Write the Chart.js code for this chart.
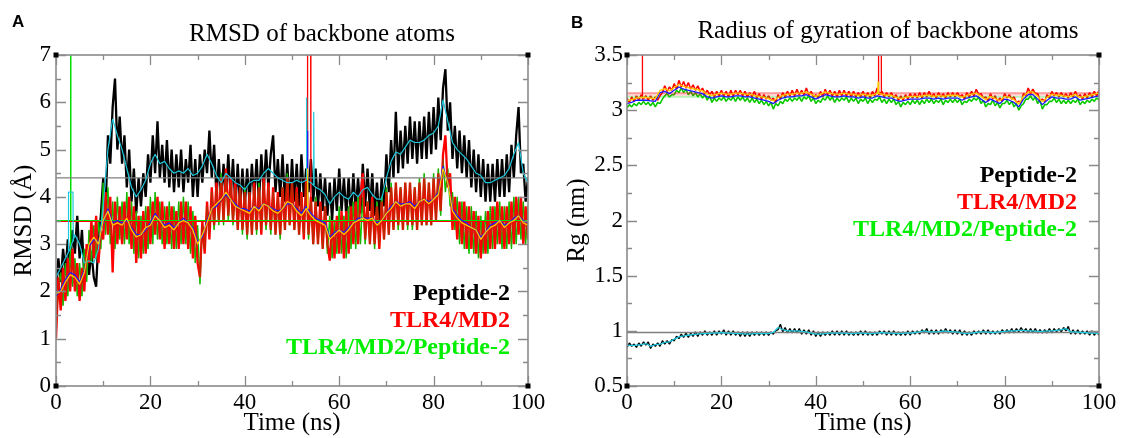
<!DOCTYPE html>
<html><head><meta charset="utf-8">
<script src="https://cdn.jsdelivr.net/npm/chart.js@4.4.1/dist/chart.umd.min.js"></script>
<style>
html,body{margin:0;padding:0;background:#fff;width:1122px;height:438px;overflow:hidden}
#ca{position:absolute;left:0;top:0}
#cb{position:absolute;left:560px;top:0}
</style></head><body>
<canvas id="ca" width="561" height="438"></canvas>
<canvas id="cb" width="562" height="438"></canvas>
<script>
// ---------- time axes (ns) ----------
const timeRaw = Array.from({length:201},(_,i)=>i/2);
const timeAvg = Array.from({length:101},(_,i)=>i);
const xTickLabels = [0,20,40,60,80,100];

// ---------- Panel A : RMSD (Å) ----------
const rmsdPeptideRaw = [
2.0,2.7,2.2,2.9,2.4,3.1,2.5,3.3,2.8,3.6,
2.7,3.3,2.3,2.9,2.35,2.85,2.3,2.1,3.1,3.6,
4.4,3.7,5.3,4.7,5.9,6.5,5.0,5.7,4.7,5.3,
4.2,5.0,3.9,4.6,3.65,4.4,3.8,4.5,4.0,4.9,
4.3,5.3,4.5,5.6,4.4,5.1,4.3,5.2,4.2,5.0,
4.1,4.9,4.2,5.0,4.1,4.8,4.3,5.1,4.0,4.8,
4.0,4.9,4.3,5.0,4.5,5.4,4.4,5.1,4.0,4.8,
3.9,4.7,4.0,4.9,4.0,4.8,3.8,4.7,3.8,4.6,
3.8,4.6,3.9,4.7,4.0,4.8,3.9,4.9,4.1,5.0,
4.2,4.9,5.3,4.1,4.8,4.0,4.9,3.9,4.7,3.8,
4.8,3.9,4.7,3.8,4.9,4.0,4.6,4.1,4.8,3.9,
4.6,3.8,4.5,3.7,4.4,3.6,4.3,3.5,4.4,3.7,
4.6,3.7,4.4,3.6,4.4,3.6,4.5,3.7,4.4,3.65,
4.7,3.8,4.6,3.7,4.5,3.6,4.3,3.5,4.4,3.8,
4.9,4.1,5.2,4.4,5.8,4.5,5.4,4.6,5.5,4.7,
5.7,4.8,5.6,4.7,5.6,4.8,5.7,4.8,5.8,4.9,
5.9,5.0,6.1,5.2,6.3,6.7,5.4,6.0,4.8,5.5,
4.6,5.4,4.5,5.3,4.4,5.2,4.2,5.0,4.1,4.9,
4.0,4.8,3.9,4.7,3.9,4.7,3.9,4.8,4.0,4.8,
4.0,4.9,4.1,5.1,4.4,5.3,5.9,4.5,4.7,3.9,4.4];
const rmsdTlrRaw = [
1.0,2.3,1.6,2.5,1.8,2.7,2.0,2.9,2.0,2.6,
1.8,2.5,2.0,3.0,2.6,3.5,2.7,3.6,2.6,3.3,
3.1,4.1,3.2,4.0,2.4,3.9,3.0,3.8,3.0,3.9,
3.1,4.0,2.9,3.8,2.6,3.6,2.7,3.7,2.8,3.8,
3.0,3.9,3.2,4.0,3.1,3.9,2.9,3.8,3.0,3.8,
2.9,3.7,2.9,3.9,3.0,3.9,2.9,3.8,2.7,3.6,
2.6,2.3,3.5,2.8,3.9,3.1,4.2,3.4,4.3,3.5,
4.4,3.5,4.6,3.6,4.4,3.5,4.3,3.3,4.2,3.3,
4.1,3.2,4.1,3.2,4.3,3.3,4.2,3.2,4.4,3.4,
4.3,3.3,4.2,3.2,4.1,3.2,4.2,3.3,4.4,3.4,
4.3,3.3,4.2,3.2,4.1,3.1,4.4,3.2,4.0,3.0,
3.9,3.0,3.9,2.9,3.8,3.0,2.65,3.5,2.7,3.6,
2.8,3.7,2.7,3.7,2.8,3.8,3.0,3.9,3.0,4.0,
4.5,3.1,3.9,3.0,4.0,3.0,3.8,2.9,3.9,3.1,
4.1,3.2,4.2,3.3,4.3,3.4,4.2,3.3,4.3,3.4,
4.3,3.4,4.2,3.3,4.3,3.4,4.4,3.4,4.3,3.4,
4.4,3.5,4.5,3.7,4.9,5.3,4.2,4.5,3.3,4.0,
3.1,3.9,3.0,3.9,2.9,3.8,2.9,3.7,2.8,3.6,
2.7,3.5,2.8,3.7,2.9,3.8,2.9,3.9,3.0,3.8,
2.9,3.8,3.0,3.9,3.0,4.0,3.2,4.0,3.0,3.8,3.1];
const rmsdComplexRaw = [
1.2,2.1,2.4,1.7,2.6,1.9,2.8,2.1,2.7,1.9,
2.6,1.9,2.9,2.2,3.3,2.6,3.4,2.7,3.5,2.9,
4.3,3.2,4.2,3.0,3.9,2.9,4.0,3.1,3.9,3.0,
4.1,3.0,3.9,2.8,3.7,2.7,3.6,2.8,3.8,2.9,
4.0,3.0,4.1,3.1,3.9,3.0,3.8,3.0,3.9,2.9,
3.8,2.9,3.9,3.0,4.0,3.0,3.9,2.8,3.7,2.6,
3.4,2.15,3.4,2.9,3.8,3.2,4.1,3.3,4.2,3.4,
4.5,3.4,4.5,3.5,4.3,3.4,4.2,3.3,4.2,3.2,
4.2,3.1,4.1,3.2,4.2,3.2,4.3,3.3,4.3,3.3,
4.2,3.2,4.1,3.2,4.0,3.1,4.2,3.3,4.5,3.4,
4.3,3.3,4.1,3.2,4.0,3.2,4.3,3.1,3.9,3.0,
4.0,3.0,3.8,2.9,3.8,2.8,3.6,2.7,3.5,2.8,
3.8,2.8,3.6,2.7,3.8,2.9,3.9,2.9,4.0,3.0,
4.0,3.0,3.9,3.0,3.9,2.9,3.9,3.0,4.0,3.1,
4.2,3.2,4.3,3.3,4.3,3.3,4.2,3.3,4.3,3.3,
4.3,3.3,4.2,3.3,4.4,3.4,4.5,3.4,4.3,3.4,
4.5,3.5,4.6,3.6,4.8,4.1,4.6,3.8,4.1,3.3,
4.0,3.0,3.9,2.9,3.8,2.8,3.8,2.8,3.7,2.7,
3.6,2.8,3.7,2.8,3.8,2.9,3.8,3.0,3.9,2.9,
3.8,2.9,3.9,2.9,4.0,3.0,4.0,3.1,3.9,3.0,3.8];
const rmsdPeptideAvg = [
2.3,2.5,2.7,2.9,3.2,3.0,2.6,2.65,2.6,2.9,
3.8,5.0,5.65,5.3,5.0,4.6,4.2,4.0,4.15,4.35,
4.7,4.9,4.7,4.75,4.6,4.5,4.55,4.5,4.6,4.45,
4.5,4.65,4.9,4.7,4.45,4.3,4.5,4.4,4.3,4.25,
4.15,4.3,4.35,4.35,4.5,4.6,4.5,4.4,4.35,4.3,
4.3,4.35,4.3,4.35,4.3,4.2,4.15,4.05,3.85,4.0,
4.1,4.0,3.95,4.1,4.0,4.15,4.2,4.05,3.95,3.95,
4.4,4.75,4.95,4.9,5.05,5.2,5.15,5.15,5.2,5.3,
5.35,5.5,6.05,5.6,5.15,5.0,4.9,4.8,4.65,4.5,
4.45,4.3,4.3,4.35,4.4,4.45,4.6,4.9,5.15,4.5,4.3];
const rmsdTlrAvg = [
1.95,2.0,2.2,2.35,2.3,2.15,2.4,3.0,3.15,3.0,
3.5,3.7,3.4,3.45,3.4,3.55,3.3,3.15,3.2,3.35,
3.4,3.6,3.5,3.35,3.4,3.3,3.45,3.5,3.45,3.3,
3.0,3.2,3.45,3.75,3.85,3.95,4.1,3.95,3.8,3.75,
3.7,3.65,3.8,3.7,3.85,3.8,3.7,3.65,3.75,3.9,
3.85,3.7,3.6,3.75,3.6,3.5,3.45,3.4,3.1,3.2,
3.3,3.2,3.3,3.45,3.5,3.55,3.5,3.55,3.4,3.5,
3.65,3.75,3.9,3.8,3.85,3.85,3.75,3.9,3.95,3.85,
3.95,4.05,4.6,4.3,3.7,3.55,3.45,3.4,3.35,3.3,
3.1,3.25,3.35,3.4,3.5,3.35,3.45,3.5,3.6,3.45,3.4];
const rmsdComplexAvg = [
1.9,2.05,2.25,2.4,2.35,2.2,2.45,2.95,3.1,3.05,
3.45,3.75,3.45,3.5,3.45,3.5,3.35,3.2,3.2,3.3,
3.45,3.65,3.5,3.4,3.45,3.35,3.45,3.55,3.45,3.35,
3.05,3.15,3.5,3.75,3.8,3.95,4.05,3.95,3.85,3.75,
3.75,3.7,3.8,3.75,3.85,3.8,3.75,3.7,3.75,3.85,
3.85,3.75,3.65,3.8,3.65,3.55,3.5,3.45,3.15,3.25,
3.3,3.25,3.35,3.45,3.55,3.55,3.55,3.55,3.45,3.5,
3.65,3.8,3.9,3.85,3.85,3.9,3.8,3.9,3.95,3.9,
3.95,4.1,4.65,4.3,3.75,3.6,3.5,3.45,3.35,3.3,
3.15,3.25,3.4,3.45,3.5,3.4,3.45,3.55,3.6,3.5,3.45];
// glitches (single frames) in panel A
const rmsdComplexSpikeT = [3.05,3.1,3.15];
const rmsdComplexSpikeV = [2.6,12,2.6];
const rmsdTlrSpikeT = [53.2,53.3,53.9,54.0];
const rmsdTlrSpikeV = [3.9,12,12,3.9];
const rmsdPeptideAvgSpikeT = [2.6,2.65,3.6,3.65,4.0,53.0,53.1,53.2,54.0,54.5,54.6,54.7];
const rmsdPeptideAvgSpikeV = [2.85,4.1,4.1,3.05,null,4.35,6.1,4.35,null,4.25,5.8,4.25];
const rmsdTlrAvgSpikeT = [53.2,53.3,53.4];
const rmsdTlrAvgSpikeV = [3.75,4.6,3.75];
const rmsdComplexAvgSpikeT = [53.25,53.3,53.35];
const rmsdComplexAvgSpikeV = [3.8,5.4,3.8];
const rmsdMeanPeptide = 4.4, rmsdMeanTlr = 3.48, rmsdMeanComplex = 3.5;

// ---------- Panel B : Rg (nm) ----------
const rgPeptideRaw = [
0.85,0.89,0.86,0.88,0.85,0.89,0.86,0.90,0.87,0.90,
0.84,0.88,0.86,0.89,0.86,0.91,0.88,0.91,0.88,0.92,
0.91,0.95,0.93,0.97,0.94,0.98,0.94,0.98,0.95,0.99,
0.95,0.99,0.96,1.0,0.96,0.99,0.96,1.0,0.96,1.0,
0.97,1.01,0.96,1.0,0.96,1.0,0.96,0.99,0.95,0.99,
0.95,0.99,0.95,0.99,0.96,0.99,0.96,0.99,0.96,0.99,
0.96,0.99,0.97,1.0,1.01,1.06,0.99,1.03,0.98,1.02,
0.98,1.02,0.98,1.02,0.97,1.01,0.97,1.01,0.96,1.0,
0.95,0.99,0.95,0.99,0.96,0.99,0.96,1.0,0.96,1.0,
0.96,1.0,0.96,1.0,0.96,0.99,0.96,0.99,0.96,1.0,
0.96,1.0,0.96,0.99,0.96,0.99,0.96,1.0,0.97,1.0,
0.96,1.0,0.96,1.0,0.96,0.99,0.96,0.99,0.96,1.0,
0.96,1.0,0.97,1.0,0.97,1.01,0.98,1.02,0.97,1.01,
0.97,1.01,0.97,1.01,0.98,1.02,0.98,1.01,0.97,1.01,
0.97,1.01,0.96,1.0,0.96,0.99,0.96,1.0,0.97,1.0,
0.97,1.01,0.97,1.01,0.97,1.0,0.97,1.0,0.97,1.01,
0.98,1.01,0.98,1.02,0.98,1.02,0.99,1.03,0.99,1.02,
0.98,1.02,0.98,1.02,0.98,1.01,0.98,1.01,0.98,1.02,
0.98,1.02,0.99,1.02,0.99,1.03,1.0,1.04,0.97,1.01,
0.97,1.01,0.97,1.0,0.97,1.0,0.96,1.0,0.96,0.99,0.96];
const rgTlrRaw = [
3.11,3.07,3.12,3.08,3.13,3.09,3.14,3.10,3.13,3.09,
3.13,3.09,3.12,3.09,3.13,3.16,3.22,3.17,3.21,3.18,
3.24,3.19,3.27,3.21,3.26,3.20,3.25,3.19,3.23,3.18,
3.22,3.17,3.20,3.15,3.18,3.14,3.17,3.12,3.17,3.13,
3.18,3.13,3.17,3.12,3.18,3.13,3.18,3.14,3.18,3.13,
3.17,3.12,3.16,3.12,3.17,3.11,3.15,3.10,3.14,3.10,
3.13,3.09,3.11,3.07,3.14,3.10,3.16,3.12,3.17,3.13,
3.18,3.13,3.19,3.14,3.18,3.14,3.20,3.14,3.17,3.12,
3.14,3.11,3.17,3.12,3.19,3.14,3.18,3.13,3.17,3.12,
3.18,3.13,3.18,3.13,3.17,3.12,3.17,3.12,3.16,3.12,
3.17,3.12,3.16,3.11,3.17,3.13,3.20,3.14,3.17,3.12,
3.16,3.12,3.16,3.11,3.14,3.09,3.13,3.09,3.14,3.10,
3.15,3.11,3.15,3.11,3.16,3.11,3.16,3.12,3.17,3.12,
3.15,3.11,3.16,3.12,3.15,3.11,3.16,3.12,3.16,3.12,
3.16,3.12,3.14,3.10,3.16,3.12,3.17,3.13,3.19,3.14,
3.15,3.11,3.12,3.08,3.15,3.10,3.13,3.08,3.11,3.08,
3.15,3.11,3.14,3.10,3.12,3.07,3.08,3.07,3.15,3.13,
3.20,3.15,3.19,3.15,3.15,3.09,3.10,3.08,3.14,3.11,
3.17,3.13,3.16,3.12,3.16,3.12,3.15,3.11,3.16,3.12,
3.17,3.12,3.14,3.10,3.15,3.11,3.16,3.12,3.17,3.13,3.18];
const rgComplexRaw = [
3.02,3.05,3.03,3.06,3.04,3.07,3.05,3.08,3.05,3.07,
3.04,3.07,3.03,3.07,3.06,3.10,3.13,3.15,3.12,3.14,
3.14,3.18,3.16,3.20,3.16,3.19,3.14,3.17,3.13,3.16,
3.12,3.15,3.11,3.14,3.09,3.13,3.07,3.11,3.08,3.11,
3.09,3.12,3.08,3.11,3.09,3.12,3.08,3.12,3.09,3.12,
3.08,3.11,3.07,3.11,3.07,3.10,3.06,3.09,3.05,3.08,
3.04,3.07,3.01,3.06,3.04,3.08,3.06,3.10,3.08,3.11,
3.08,3.11,3.09,3.12,3.08,3.12,3.10,3.13,3.08,3.11,
3.06,3.09,3.07,3.11,3.09,3.13,3.09,3.12,3.07,3.11,
3.08,3.11,3.09,3.12,3.07,3.11,3.08,3.11,3.06,3.10,
3.08,3.11,3.06,3.10,3.07,3.10,3.09,3.12,3.07,3.10,
3.06,3.10,3.07,3.10,3.05,3.08,3.03,3.07,3.05,3.08,
3.05,3.09,3.06,3.09,3.05,3.09,3.06,3.10,3.07,3.10,
3.06,3.09,3.07,3.10,3.05,3.09,3.07,3.10,3.07,3.10,
3.07,3.10,3.05,3.08,3.07,3.10,3.08,3.11,3.09,3.12,
3.06,3.09,3.03,3.06,3.05,3.09,3.04,3.07,3.02,3.06,
3.06,3.09,3.05,3.08,3.03,3.06,3.00,3.04,3.06,3.10,
3.10,3.13,3.09,3.12,3.06,3.09,3.01,3.05,3.05,3.08,
3.08,3.11,3.07,3.10,3.06,3.09,3.06,3.09,3.06,3.09,
3.07,3.10,3.05,3.08,3.06,3.09,3.07,3.10,3.08,3.11,3.09];
const rgPeptideAvg = [
0.87,0.865,0.87,0.875,0.885,0.86,0.875,0.88,0.895,0.9,
0.925,0.945,0.955,0.96,0.965,0.97,0.975,0.975,0.98,0.98,
0.985,0.98,0.98,0.975,0.975,0.97,0.97,0.975,0.975,0.975,
0.975,0.985,1.03,1.01,1.0,1.0,1.0,0.995,0.99,0.98,
0.97,0.97,0.975,0.98,0.98,0.98,0.98,0.975,0.975,0.98,
0.98,0.975,0.975,0.98,0.985,0.98,0.98,0.975,0.975,0.98,
0.98,0.985,0.99,1.0,0.99,0.99,0.99,1.0,0.995,0.99,
0.99,0.98,0.975,0.98,0.985,0.99,0.99,0.985,0.985,0.99,
0.995,1.0,1.0,1.005,1.005,1.0,1.0,0.995,0.995,1.0,
1.0,1.005,1.01,1.02,0.99,0.99,0.985,0.985,0.98,0.98,0.975];
const rgTlrAvg = [
3.085,3.095,3.11,3.115,3.115,3.11,3.105,3.18,3.195,3.175,
3.205,3.235,3.215,3.205,3.195,3.185,3.175,3.145,3.135,3.145,
3.155,3.145,3.145,3.155,3.155,3.145,3.145,3.135,3.125,3.115,
3.105,3.085,3.115,3.135,3.145,3.145,3.155,3.155,3.165,3.145,
3.125,3.145,3.165,3.155,3.145,3.145,3.155,3.145,3.145,3.135,
3.145,3.135,3.135,3.155,3.145,3.135,3.135,3.115,3.105,3.115,
3.125,3.125,3.125,3.135,3.135,3.125,3.135,3.125,3.135,3.135,
3.135,3.115,3.135,3.145,3.155,3.125,3.095,3.125,3.105,3.085,
3.125,3.115,3.095,3.055,3.125,3.165,3.165,3.125,3.075,3.115,
3.145,3.135,3.135,3.125,3.125,3.145,3.115,3.125,3.135,3.145,3.155];
const rgComplexAvg = [
3.06,3.07,3.09,3.09,3.09,3.085,3.08,3.16,3.17,3.15,
3.18,3.21,3.19,3.18,3.17,3.16,3.15,3.12,3.11,3.12,
3.13,3.12,3.12,3.13,3.13,3.12,3.12,3.11,3.10,3.09,
3.08,3.06,3.09,3.11,3.12,3.12,3.13,3.13,3.14,3.12,
3.10,3.12,3.14,3.13,3.12,3.12,3.13,3.12,3.12,3.11,
3.12,3.11,3.11,3.13,3.12,3.11,3.11,3.09,3.08,3.09,
3.10,3.10,3.10,3.11,3.11,3.10,3.11,3.10,3.11,3.11,
3.11,3.09,3.11,3.12,3.13,3.10,3.07,3.10,3.08,3.06,
3.10,3.09,3.07,3.03,3.10,3.14,3.14,3.10,3.05,3.09,
3.12,3.11,3.11,3.10,3.10,3.12,3.09,3.10,3.11,3.12,3.13];
const rgTlrSpikeT = [3.2,3.25,3.3,3.4,53.2,53.3,53.8,53.9];
const rgTlrSpikeV = [3.1,5,3.1,null,3.14,5,5,3.14];
const rgTlrAvgSpikeT = [53.1,53.2,53.3];
const rgTlrAvgSpikeV = [3.15,3.26,3.15];
const rgMeanPeptide = 0.985, rgMeanTlr = 3.155, rgMeanTlr2 = 3.138, rgMeanComplex = 3.12;

// ---------- colours ----------
const C = {black:'#000000', red:'#ff0000', green:'#00e000', greenT:'rgba(60,120,0,0.35)',
  cyan:'#1ec8dc', yellow:'#ffcc00', blue:'#1a1aff', gray:'#7f7f7f', frame:'#8a8a8a'};
const SERIF = "'Liberation Serif'";
Chart.defaults.font.family = SERIF;

function pts(ts, vs){ return ts.map((t,i)=>({x:t, y:vs[i]})); }
function hline(v){ return [{x:0,y:v},{x:100,y:v}]; }
function ds(data, color, width, order){
  return {data, borderColor:color, borderWidth:width, order, pointRadius:0, tension:0, fill:false,
    spanGaps:false, borderJoinStyle:'bevel'};
}

const framePlugin = {
  id:'frame',
  afterDatasetsDraw(chart, args, o){
    const {ctx, chartArea:a, scales:{x, y}} = chart;
    ctx.save();
    ctx.strokeStyle = C.frame; ctx.lineWidth = 1.3;
    const isMaj = (v, m)=>Math.abs(v/m - Math.round(v/m)) < 1e-6;
    for (let v = x.min; v <= x.max + 1e-9; v += o.xMinor){
      const p = Math.round(x.getPixelForValue(v)) + 0.5, L = isMaj(v, o.xMajor) ? 10 : 5;
      ctx.beginPath(); ctx.moveTo(p, a.bottom); ctx.lineTo(p, a.bottom - L);
      ctx.moveTo(p, a.top); ctx.lineTo(p, a.top + L); ctx.stroke();
    }
    for (let v = y.min; v <= y.max + 1e-9; v += o.yMinor){
      const p = Math.round(y.getPixelForValue(v)) + 0.5, L = isMaj(v - y.min, o.yMajor) ? 10 : 5;
      ctx.beginPath(); ctx.moveTo(a.left, p); ctx.lineTo(a.left + L, p);
      ctx.moveTo(a.right, p); ctx.lineTo(a.right - L, p); ctx.stroke();
    }
    ctx.lineWidth = 1.6;
    ctx.strokeRect(a.left, a.top, a.right - a.left, a.bottom - a.top);
    ctx.fillStyle = '#000';
    for (const [cx, cy] of [[a.left,a.top],[a.right,a.top],[a.left,a.bottom],[a.right,a.bottom]])
      ctx.fillRect(cx - 2.5, cy - 2.5, 5, 5);
    ctx.restore();
  }
};
const textPlugin = {
  id:'texts',
  afterDraw(chart, args, o){
    const ctx = chart.ctx; ctx.save();
    for (const t of o.items){
      ctx.font = t.font; ctx.fillStyle = t.color; ctx.textAlign = t.align; ctx.textBaseline = 'alphabetic';
      ctx.fillText(t.text, t.x, t.y);
    }
    ctx.restore();
  }
};

function axisFont(size){ return {family:SERIF, size, weight:'normal'}; }
function makeOptions(cfg){
  return {
    responsive:false, animation:false, events:[],
    layout:{padding:{left:0, right:cfg.padRight, top:55, bottom:0}},
    scales:{
      x:{type:'linear', min:0, max:100,
        afterFit(s){ s.height = 52; },
        afterBuildTicks(s){ s.ticks = xTickLabels.map(v=>({value:v})); },
        ticks:{autoSkip:false, maxRotation:0, font:axisFont(23), color:'#000', padding:3,
          callback:(v)=>String(v)},
        grid:{display:false, drawTicks:false}, border:{display:false},
        title:{display:true, text:'Time (ns)', font:axisFont(25), color:'#000', padding:{top:0, bottom:0}}},
      y:{type:'linear', min:cfg.yMin, max:cfg.yMax,
        afterFit(s){ s.width = cfg.yWidth; },
        afterBuildTicks(s){ s.ticks = cfg.yTicks.map(v=>({value:v})); },
        ticks:{autoSkip:false, font:axisFont(23), color:'#000', padding:cfg.yPad,
          callback:(v)=>String(v)},
        grid:{display:false, drawTicks:false}, border:{display:false},
        title:{display:true, text:cfg.yTitle, font:axisFont(25), color:'#000', padding:{top:cfg.yTitlePad, bottom:0}}}
    },
    plugins:{legend:{display:false}, tooltip:{enabled:false},
      frame:{xMinor:10, xMajor:20, yMinor:cfg.yMinor, yMajor:cfg.yMajor},
      texts:{items:cfg.texts}}
  };
}

const rmsdTicks = [0,1,2,3,4,5,6,7];
const rgTicks = [0.5,1,1.5,2,2.5,3,3.5];
const legendFont = "bold 24px 'Liberation Serif'";

new Chart(document.getElementById('ca'), {
  type:'line',
  data:{datasets:[
    ds(pts(timeRaw, rmsdPeptideRaw), C.black, 2.3, 20),
    ds(pts(timeRaw, rmsdComplexRaw), C.green, 1.4, 19),
    ds(pts(rmsdComplexSpikeT, rmsdComplexSpikeV), C.green, 1.5, 19),
    ds(pts(timeRaw, rmsdTlrRaw), C.red, 2.3, 18),
    ds(pts(rmsdTlrSpikeT, rmsdTlrSpikeV), C.red, 1.3, 18),
    ds(pts(timeRaw, rmsdComplexRaw), C.greenT, 1, 17),
    ds(hline(rmsdMeanPeptide), C.gray, 1.3, 10),
    ds(hline(rmsdMeanTlr), C.red, 1.2, 10),
    ds(hline(rmsdMeanComplex), C.green, 1.2, 9),
    ds(pts(timeAvg, rmsdPeptideAvg), C.cyan, 1.2, 5),
    ds(pts(rmsdPeptideAvgSpikeT, rmsdPeptideAvgSpikeV), C.cyan, 1.2, 5),
    ds(pts(timeAvg, rmsdComplexAvg), C.blue, 1.2, 4),
    ds(pts(rmsdComplexAvgSpikeT, rmsdComplexAvgSpikeV), C.blue, 1.2, 4),
    ds(pts(timeAvg, rmsdTlrAvg), C.yellow, 1.2, 3),
    ds(pts(rmsdTlrAvgSpikeT, rmsdTlrAvgSpikeV), C.yellow, 1.2, 3)
  ]},
  options:makeOptions({padRight:33, yMin:0, yMax:7, yTicks:rmsdTicks, yWidth:56, yPad:5,
    yTitle:'RMSD (Å)', yTitlePad:9, yMinor:0.5, yMajor:1,
    texts:[
      {text:'A', x:12, y:27, font:"bold 17px 'Liberation Sans'", color:'#000', align:'left'},
      {text:'RMSD of backbone atoms', x:322, y:41, font:"25px 'Liberation Serif'", color:'#000', align:'center'},
      {text:'Peptide-2', x:510, y:300, font:legendFont, color:C.black, align:'right'},
      {text:'TLR4/MD2', x:510, y:327, font:legendFont, color:C.red, align:'right'},
      {text:'TLR4/MD2/Peptide-2', x:510, y:354, font:legendFont, color:'#00ee00', align:'right'}
    ]}),
  plugins:[framePlugin, textPlugin]
});

new Chart(document.getElementById('cb'), {
  type:'line',
  data:{datasets:[
    ds(pts(timeRaw, rgPeptideRaw), C.black, 1.4, 20),
    ds(pts(timeRaw, rgComplexRaw), C.green, 1.6, 19),
    ds(pts(timeRaw, rgTlrRaw), C.red, 1.6, 18),
    ds(pts(rgTlrSpikeT, rgTlrSpikeV), C.red, 1.3, 18),
    ds(pts(timeRaw, rgComplexRaw), C.greenT, 1, 17),
    ds(hline(rgMeanPeptide), C.gray, 1.3, 10),
    ds(hline(rgMeanTlr), 'rgba(255,0,0,0.7)', 1, 10),
    ds(hline(rgMeanTlr2), 'rgba(255,0,0,0.35)', 1, 10),
    ds(hline(rgMeanComplex), 'rgba(0,220,0,0.5)', 1, 9),
    ds(pts(timeAvg, rgPeptideAvg), C.cyan, 1.3, 5),
    ds(pts(timeAvg, rgComplexAvg), C.blue, 1.3, 4),
    ds(pts(timeAvg, rgTlrAvg), C.yellow, 1.3, 3),
    ds(pts(rgTlrAvgSpikeT, rgTlrAvgSpikeV), C.yellow, 1.3, 3)
  ]},
  options:makeOptions({padRight:23, yMin:0.5, yMax:3.5, yTicks:rgTicks, yWidth:67, yPad:4,
    yTitle:'Rg (nm)', yTitlePad:2, yMinor:0.25, yMajor:0.5,
    texts:[
      {text:'B', x:11, y:28, font:"bold 17px 'Liberation Sans'", color:'#000', align:'left'},
      {text:'Radius of gyration of backbone atoms', x:328, y:38, font:"25px 'Liberation Serif'", color:'#000', align:'center'},
      {text:'Peptide-2', x:517, y:182, font:legendFont, color:C.black, align:'right'},
      {text:'TLR4/MD2', x:517, y:209, font:legendFont, color:C.red, align:'right'},
      {text:'TLR4/MD2/Peptide-2', x:517, y:236, font:legendFont, color:'#00ee00', align:'right'}
    ]}),
  plugins:[framePlugin, textPlugin]
});
</script>
</body></html>
